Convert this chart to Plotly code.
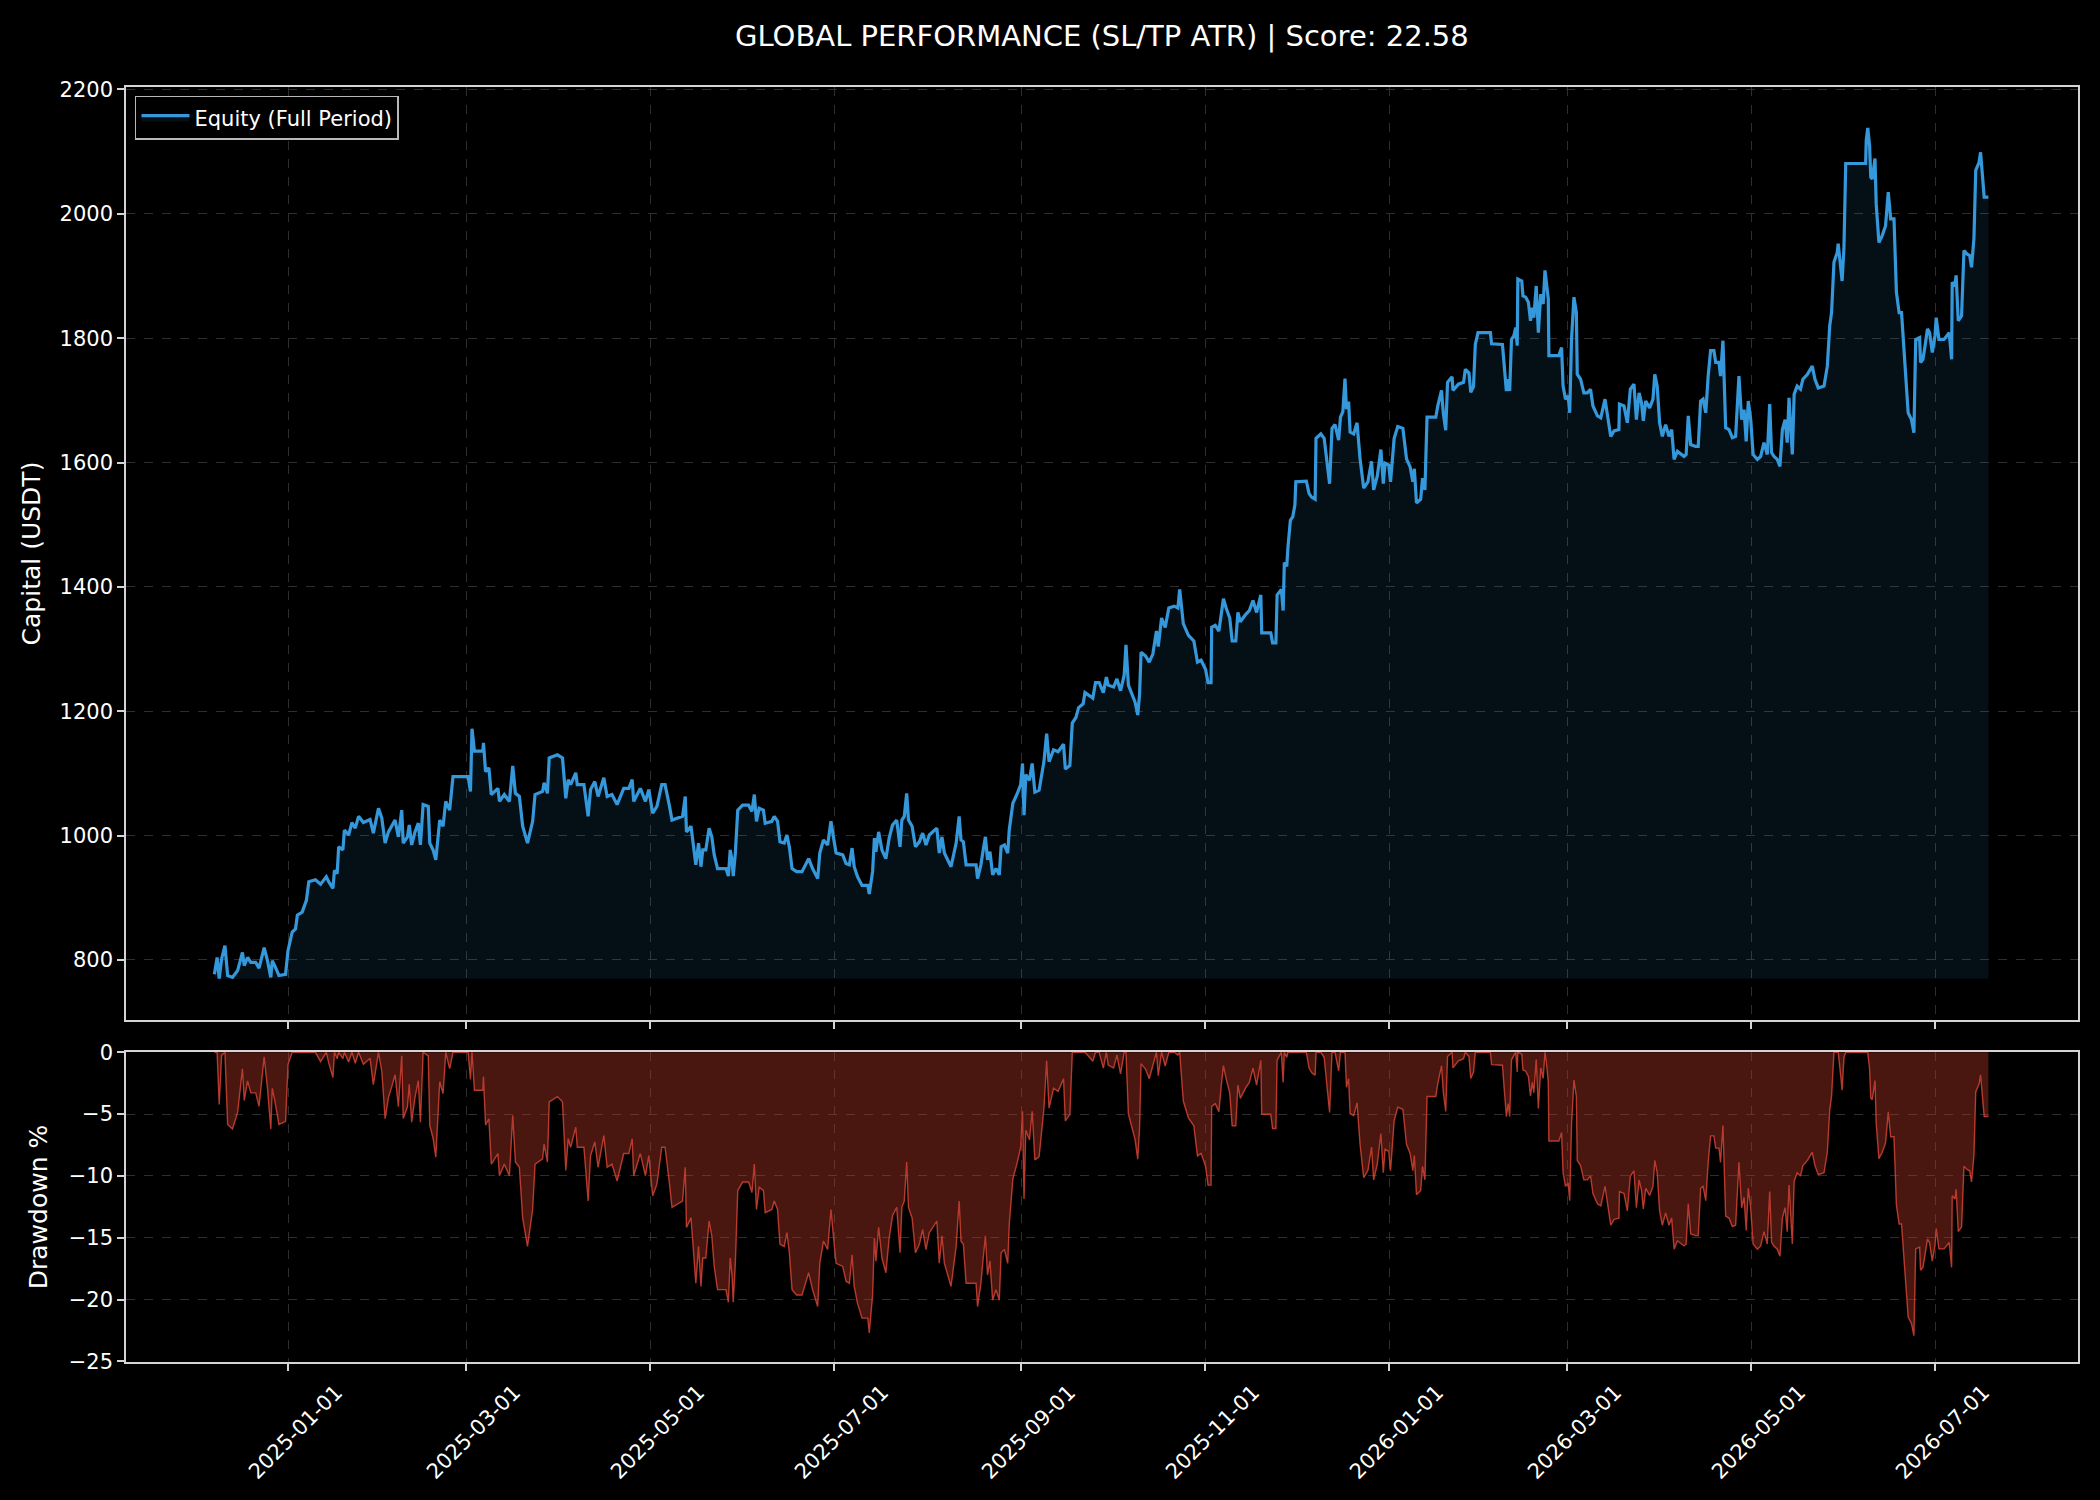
import numpy as np
import pandas as pd
import plotly.graph_objects as go

# ---------------- data ----------------
START_DATE = "2025-01-01"   # day_offset is measured in days from this date

day_offset = [
    -24.5, -23.6, -22.9, -22.1, -21.0, -20.1, -18.5, -16.8, -15.2, -14.6, -13.5, -12.4, -10.8, -9.7, -8.0,
    -6.9, -5.8, -5.3, -4.5, -3.1, -0.9, -0.1, 1.3, 2.4, 3.0, 4.6, 6.0, 6.8, 9.0, 10.7, 12.6, 13.4, 14.8,
    15.3, 16.2, 16.7, 18.1, 18.6, 20.0, 21.1, 22.2, 23.3, 24.9, 27.1, 28.2, 29.9, 31.0, 32.1, 33.2, 34.3,
    35.4, 36.5, 37.6, 38.1, 39.5, 40.1, 40.9, 42.0, 43.1, 43.8, 44.7, 46.4, 46.9, 48.0, 48.9, 50.2, 51.3,
    52.2, 53.5, 54.6, 59.6, 60.4, 60.9, 61.7, 64.5, 64.7, 65.4, 66.5, 67.3, 69.5, 70.0, 71.6, 73.3, 74.4,
    75.3, 76.6, 77.7, 79.3, 81.0, 81.8, 84.3, 84.8, 85.9, 86.5, 89.2, 90.9, 91.4, 92.0, 92.8, 93.6, 95.3,
    95.8, 98.0, 99.4, 100.2, 101.6, 102.7, 104.6, 105.7, 107.3, 109.0, 111.2, 112.9, 114.0, 114.5, 116.7,
    118.4, 119.5, 120.8, 122.2, 123.8, 124.9, 126.3, 127.2, 130.7, 131.6, 132.0, 133.5, 134.0, 135.1,
    136.0, 136.8, 137.4, 138.4, 139.5, 140.4, 141.2, 142.3, 145.1, 145.9, 146.5, 147.1, 147.5, 148.2,
    149.0, 150.6, 152.6, 153.7, 154.5, 155.2, 156.1, 157.5, 158.1, 160.3, 161.1, 162.2, 163.0, 164.4,
    165.3, 166.1, 167.0, 168.5, 170.3, 171.1, 172.5, 173.8, 175.5, 176.2, 177.4, 178.8, 179.9, 180.7,
    181.6, 183.8, 184.9, 186.0, 186.9, 187.6, 188.7, 190.2, 192.1, 192.6, 193.7, 194.3, 194.8, 195.7,
    196.8, 198.1, 199.2, 200.3, 201.7, 202.8, 203.4, 204.2, 205.0, 205.6, 206.8, 207.9, 209.2, 210.3,
    211.4, 212.5, 214.2, 215.0, 215.8, 216.7, 217.5, 218.6, 219.7, 221.4, 222.4, 223.0, 223.8, 224.7,
    228.0, 228.5, 229.6, 230.2, 231.1, 231.8, 232.6, 233.5, 234.6, 235.7, 236.3, 237.4, 238.5, 239.0,
    240.2, 241.6, 242.8, 243.4, 243.9, 244.5, 245.7, 246.6, 247.5, 248.9, 250.5, 251.4, 252.2, 253.7,
    255.2, 257.0, 257.6, 259.1, 259.9, 261.1, 262.0, 263.5, 264.1, 265.9, 266.7, 267.6, 268.8, 270.2,
    271.2, 271.8, 273.6, 274.7, 275.9, 277.1, 277.7, 278.5, 279.7, 280.7, 281.6, 282.2, 282.7, 284.2,
    285.4, 286.6, 287.8, 288.4, 289.5, 290.7, 291.9, 293.7, 294.9, 295.5, 296.7, 298.4, 300.2, 301.4,
    302.6, 304.1, 304.9, 305.9, 306.1, 307.3, 308.5, 309.3, 310.0, 310.9, 312.1, 312.9, 314.1, 314.8,
    315.6, 317.4, 318.6, 319.8, 321.0, 322.4, 322.7, 325.7, 326.3, 327.4, 327.8, 329.2, 329.8, 330.2,
    331.0, 331.4, 332.2, 333.0, 333.7, 334.0, 337.5, 338.4, 339.3, 340.4, 340.7, 342.3, 343.4, 345.2,
    346.0, 347.0, 348.2, 348.8, 349.6, 350.3, 350.8, 351.5, 352.0, 353.2, 354.3, 355.3, 356.5, 357.9,
    359.1, 359.8, 361.0, 362.2, 363.0, 363.6, 364.8, 365.4, 366.6, 367.8, 369.5, 370.7, 371.9, 372.8,
    373.3, 374.0, 375.4, 376.0, 376.8, 377.5, 380.4, 381.1, 382.3, 382.9, 383.7, 384.3, 385.8, 386.1,
    387.9, 389.6, 390.2, 391.4, 392.0, 392.9, 393.5, 394.4, 398.5, 398.9, 401.3, 402.5, 403.0, 403.8,
    404.4, 404.9, 405.5, 406.3, 406.9, 407.4, 407.6, 408.9, 409.3, 410.2, 411.1, 411.8, 412.4, 412.9,
    413.7, 414.4, 415.2, 416.0, 416.6, 417.1, 417.7, 417.9, 421.2, 422.1, 422.6, 423.4, 424.3, 424.8,
    425.4, 426.2, 427.0, 427.3, 428.4, 429.5, 430.6, 431.7, 432.5, 434.0, 435.1, 436.5, 437.3, 438.4,
    439.5, 441.1, 441.3, 442.8, 443.9, 444.9, 446.1, 446.9, 447.8, 448.6, 449.2, 450.0, 451.3, 452.4,
    453.0, 453.8, 454.6, 455.5, 456.6, 457.7, 458.6, 459.4, 460.5, 462.7, 463.4, 464.1, 464.9, 466.5,
    467.4, 468.2, 469.0, 469.9, 470.7, 471.5, 472.6, 473.2, 474.3, 474.8, 475.6, 476.5, 477.6, 478.7,
    479.8, 480.9, 481.8, 482.6, 483.3, 484.0, 484.8, 485.6, 487.0, 488.1, 489.2, 490.3, 491.1, 491.7,
    492.5, 493.6, 494.5, 495.3, 496.2, 496.9, 497.5, 498.6, 499.2, 500.2, 501.3, 502.1, 503.6, 505.2,
    506.1, 507.2, 509.1, 510.2, 511.0, 511.6, 512.4, 513.5, 513.8, 514.6, 515.1, 515.7, 516.3, 522.9,
    523.1, 523.6, 524.2, 524.6, 525.1, 526.0, 526.4, 527.3, 528.4, 529.5, 530.4, 531.2, 532.3, 533.1,
    534.0, 534.8, 535.6, 536.2, 537.0, 538.1, 538.9, 539.5, 540.8, 541.1, 541.9, 542.6, 543.4, 544.1,
    545.0, 545.9, 546.3, 547.2, 548.9, 550.6, 551.4, 551.6, 552.5, 552.9, 553.6, 554.7, 555.5, 556.6,
    557.4, 558.0, 558.8, 559.4, 560.5, 561.0, 561.6, 562.2, 563.6,
]

equity = [
    777, 804, 770, 802, 823, 775, 772, 783, 812, 791, 804, 796, 796, 787, 820,
    799, 772, 799, 791, 775, 777, 815, 845, 850, 872, 877, 896, 926, 929, 922, 934, 926, 915,
    944, 939, 982, 977, 1009, 1001, 1021, 1012, 1031, 1021, 1026, 1004, 1044, 1028, 988, 1006, 1015,
    1025, 998, 1041, 988, 998, 1017, 985, 1006, 1020, 985, 1050, 1047, 988, 977, 961, 1025, 1015,
    1055, 1041, 1095, 1095, 1071, 1172, 1136, 1136, 1149, 1103, 1109, 1066, 1076, 1055, 1066, 1055, 1112,
    1068, 1063, 1015, 988, 1023, 1066, 1071, 1085, 1068, 1125, 1130, 1125, 1087, 1060, 1090, 1082, 1101,
    1082, 1082, 1031, 1074, 1087, 1063, 1093, 1063, 1066, 1050, 1076, 1076, 1090, 1055, 1076,
    1055, 1074, 1036, 1047, 1082, 1082, 1049, 1025, 1031, 1063, 1006, 1015, 996, 953,
    988, 950, 977, 977, 1012, 998, 969, 947, 947, 935, 977, 961, 935, 972,
    1041, 1049, 1049, 1039, 1066, 1023, 1044, 1041, 1020, 1023, 1031, 1023, 990, 988,
    1001, 982, 947, 942, 942, 950, 963, 947, 931, 972, 993, 985, 1023, 998,
    972, 969, 955, 953, 980, 950, 934, 920, 920, 906, 942, 996, 974, 1006,
    977, 963, 996, 1017, 1025, 982, 1025, 1031, 1068, 1025, 1015, 982, 990, 1004,
    985, 1001, 1009, 1012, 972, 998, 972, 961, 950, 988, 1031, 993, 990, 953,
    953, 931, 953, 972, 998, 961, 974, 937, 947, 937, 982, 985, 972, 1009,
    1052, 1067, 1082, 1116, 1033, 1098, 1089, 1116, 1070, 1073, 1119, 1164, 1119, 1138,
    1135, 1147, 1107, 1113, 1181, 1190, 1206, 1212, 1230, 1224, 1221, 1246, 1246, 1230,
    1255, 1242, 1239, 1252, 1233, 1258, 1307, 1242, 1227, 1215, 1194, 1227, 1295, 1289,
    1279, 1292, 1329, 1304, 1350, 1335, 1366, 1369, 1366, 1396, 1341, 1322, 1313, 1279,
    1282, 1267, 1246, 1246, 1335, 1338, 1329, 1359, 1381, 1366, 1350, 1313, 1313, 1359,
    1344, 1356, 1362, 1378, 1359, 1387, 1326, 1326, 1310, 1310, 1387, 1396, 1362, 1439,
    1433, 1464, 1507, 1513, 1532, 1569, 1570, 1550, 1544, 1541, 1639, 1646, 1639, 1566,
    1655, 1661, 1636, 1673, 1682, 1735, 1686, 1698, 1649, 1646, 1664, 1606, 1559, 1569,
    1602, 1556, 1578, 1621, 1566, 1599, 1596, 1569, 1639, 1658, 1655, 1606, 1593, 1569,
    1590, 1535, 1541, 1575, 1556, 1673, 1673, 1692, 1716, 1679, 1652, 1729, 1738, 1716,
    1726, 1729, 1750, 1744, 1713, 1722, 1790, 1809, 1809, 1791, 1790, 1790, 1761, 1715,
    1734, 1715, 1798, 1804, 1817, 1788, 1895, 1892, 1868, 1866, 1858, 1828, 1849, 1833,
    1884, 1809, 1871, 1855, 1909, 1892, 1863, 1772, 1772, 1785, 1723, 1702, 1707, 1680,
    1798, 1866, 1841, 1742, 1734, 1712, 1712, 1718, 1691, 1675, 1672, 1702, 1675, 1642,
    1651, 1653, 1694, 1691, 1664, 1718, 1726, 1669, 1712, 1696, 1667, 1699, 1688, 1702,
    1742, 1723, 1664, 1642, 1661, 1642, 1653, 1605, 1618, 1610, 1613, 1675, 1629, 1626,
    1626, 1699, 1702, 1680, 1739, 1780, 1780, 1761, 1761, 1739, 1796, 1656, 1653, 1640,
    1642, 1739, 1669, 1685, 1634, 1699, 1669, 1613, 1605, 1610, 1632, 1613, 1694, 1616,
    1610, 1605, 1594, 1653, 1669, 1632, 1704, 1613, 1710, 1723, 1718, 1734, 1742, 1755,
    1734, 1720, 1723, 1755, 1820, 1841, 1922, 1938, 1952, 1917, 1892, 1944, 2081, 2081,
    2118, 2138, 2110, 2059, 2056, 2089, 2016, 1954, 1965, 1981, 2035, 1992, 1992, 1874,
    1841, 1841, 1782, 1739, 1680, 1669, 1648, 1798, 1801, 1761, 1766, 1788, 1815, 1809,
    1777, 1804, 1833, 1798, 1798, 1809, 1766, 1890, 1884, 1901, 1828, 1836, 1941, 1935,
    1933, 1914, 1960, 2070, 2083, 2099, 2065, 2027, 2027,
]

TITLE = "GLOBAL PERFORMANCE (SL/TP ATR) | Score: 22.58"
EQUITY_NAME = "Equity (Full Period)"
Y1_TITLE = "Capital (USDT)"
Y2_TITLE = "Drawdown %"

# ---------------- derived series ----------------
dates = pd.Timestamp(START_DATE) + pd.to_timedelta(np.array(day_offset, dtype=float), unit="D")
eq = np.array(equity, dtype=float)
running_peak = np.maximum.accumulate(eq)
drawdown = (eq / running_peak - 1.0) * 100.0
floor = np.full_like(eq, eq.min())

# ---------------- figure ----------------
FONT = "DejaVu Sans"
AXIS_LINE = "#d4d4d4"
GRID = "#2e2e2e"
TICK_SIZE = 21

fig = go.Figure()

fig.add_trace(go.Scatter(
    x=dates, y=floor, mode="lines",
    line=dict(width=0, color="rgba(0,0,0,0)"),
    showlegend=False, hoverinfo="skip", xaxis="x", yaxis="y",
))
fig.add_trace(go.Scatter(
    x=dates, y=eq, mode="lines", name=EQUITY_NAME,
    line=dict(color="#3498db", width=3.2),
    fill="tonexty", fillcolor="rgba(52,152,219,0.10)",
    xaxis="x", yaxis="y",
))
fig.add_trace(go.Scatter(
    x=dates, y=drawdown, mode="lines",
    line=dict(color="rgba(220,70,55,0.8)", width=1.4),
    fill="tozeroy", fillcolor="rgba(192,57,43,0.38)",
    showlegend=False, xaxis="x2", yaxis="y2",
))

x_range = [pd.Timestamp(START_DATE) - pd.Timedelta(days=53.8),
           pd.Timestamp(START_DATE) + pd.Timedelta(days=593.3)]

common_x = dict(
    type="date", range=x_range, tick0="2025-01-01", dtick="M2",
    tickformat="%Y-%m-%d", showgrid=True, gridcolor=GRID, griddash="dash", gridwidth=1.3,
    showline=True, mirror=True, linecolor=AXIS_LINE, linewidth=1.5,
    ticks="outside", ticklen=7, tickwidth=1.5, tickcolor=AXIS_LINE,
    zeroline=False, tickfont=dict(family=FONT, size=TICK_SIZE, color="#ffffff"),
)
common_y = dict(
    showgrid=True, gridcolor=GRID, griddash="dash", gridwidth=1.3,
    showline=True, mirror=True, linecolor=AXIS_LINE, linewidth=1.5,
    ticks="outside", ticklen=7, tickwidth=1.5, tickcolor=AXIS_LINE,
    zeroline=False, tickfont=dict(family=FONT, size=TICK_SIZE, color="#ffffff"),
)

fig.update_layout(
    width=2100, height=1500,
    paper_bgcolor="#000000", plot_bgcolor="#000000",
    margin=dict(l=126, r=22, t=87, b=138, autoexpand=False),
    font=dict(family=FONT, color="#ffffff"),
    title=dict(text=TITLE, x=0.5247, xanchor="center", y=1 - 36 / 1500, yanchor="middle",
               yref="container", font=dict(family=FONT, size=29, color="#ffffff")),
    showlegend=True,
    legend=dict(x=0.0046, y=0.993, xanchor="left", yanchor="top",
                bgcolor="#000000", bordercolor="#b8b8b8", borderwidth=1.5,
                font=dict(family=FONT, size=21, color="#ffffff"),
                itemwidth=48),
    xaxis=dict(common_x, domain=[0, 1], anchor="y", showticklabels=False, matches="x2"),
    yaxis=dict(common_y, domain=[0.2682, 1.0], anchor="x", range=[703.4, 2204],
               tick0=800, dtick=200,
               title=dict(text=Y1_TITLE, standoff=12, font=dict(family=FONT, size=25, color="#ffffff"))),
    xaxis2=dict(common_x, domain=[0, 1], anchor="y2", showticklabels=True,
                tickangle=-45, ticklabelshift=48, ticklabelstandoff=1),
    yaxis2=dict(common_y, domain=[0, 0.2431], anchor="x2", range=[-25.05, 0.02],
                tick0=0, dtick=5,
                title=dict(text=Y2_TITLE, standoff=14, font=dict(family=FONT, size=25, color="#ffffff"))),
)

fig.write_html("out.html")
